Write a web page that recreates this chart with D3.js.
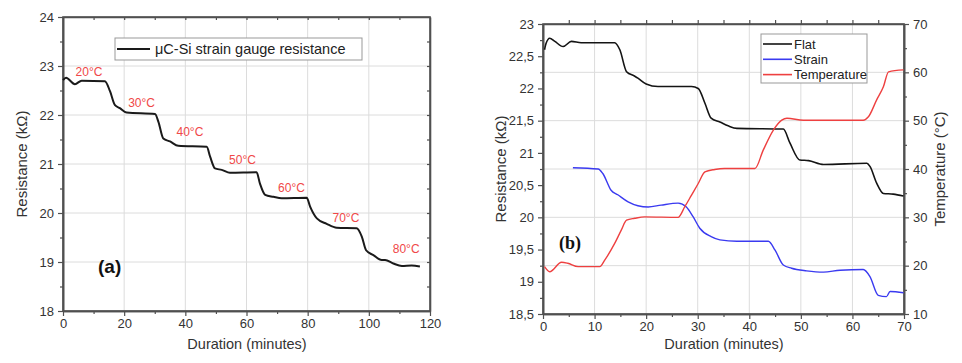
<!DOCTYPE html>
<html>
<head>
<meta charset="utf-8">
<script src="https://cdn.jsdelivr.net/npm/d3@7"></script>
<style>
  body { margin: 0; background: #fff; }
  svg { display: block; font-family: "Liberation Sans", Arial, sans-serif; }
</style>
</head>
<body>
<div class="container"></div>
<script>
// ---- data: chart (a) ----
const aTime = [0, 1, 3.9, 6.1, 13.7, 15.4, 17, 18.6, 20.8, 30.1, 31.2, 32.8, 35, 37.7, 47, 48.1, 49.7, 51.9, 54.6, 63.3, 64.4, 66.1, 68.8, 71.5, 79.7, 80.8, 83, 86.2, 89.5, 96, 97.7, 99.1, 101.5, 104.2, 105.3, 108, 110.8, 114, 116.7]
const aRes  = [22.71, 22.76, 22.63, 22.70, 22.69, 22.48, 22.2, 22.14, 22.05, 22.02, 21.86, 21.52, 21.46, 21.37, 21.35, 21.15, 20.91, 20.88, 20.82, 20.83, 20.6, 20.37, 20.33, 20.30, 20.31, 20.13, 19.89, 19.78, 19.70, 19.69, 19.52, 19.24, 19.14, 19.04, 19.04, 18.97, 18.92, 18.93, 18.91]
const aLabels = ['20°C', '30°C', '40°C', '50°C', '60°C', '70°C', '80°C']
const aLabelT = [8.5, 25.7, 41.5, 58.7, 74.7, 92.5, 112.2]
const aLabelR = [22.8, 22.16, 21.57, 21.0, 20.43, 19.82, 19.18]
const aXTicks = [0, 20, 40, 60, 80, 100, 120]
const aYTicks = [18, 19, 20, 21, 22, 23, 24]

// ---- data: chart (b) ----
const flatT = [0.3, 0.6, 1.3, 2.3, 3.9, 5.5, 7.4, 13.9, 14.9, 16.2, 17.8, 18.4, 20, 22.3, 28.8, 30.1, 31.4, 32.6, 34.3, 35.9, 37.6, 46.6, 47.9, 49.8, 51.5, 54.4, 62.8, 63.4, 64.7, 66, 67.9, 69.9]
const flatR = [22.60, 22.70, 22.78, 22.73, 22.65, 22.73, 22.71, 22.71, 22.60, 22.26, 22.19, 22.16, 22.07, 22.03, 22.03, 22.0, 21.77, 21.54, 21.48, 21.42, 21.38, 21.37, 21.15, 20.89, 20.88, 20.82, 20.84, 20.79, 20.53, 20.37, 20.36, 20.33]
const strainT = [5.8, 10.7, 11.6, 13.2, 14.5, 16.5, 18.4, 20.4, 22.9, 26.2, 27.8, 29.1, 30.4, 32.6, 34.3, 37.6, 43.7, 45, 46.6, 48.2, 51.1, 54.4, 57.6, 62.1, 63.4, 65, 66.6, 67.3, 69.9]
const strainR = [20.77, 20.75, 20.68, 20.42, 20.35, 20.24, 20.18, 20.16, 20.19, 20.22, 20.16, 20.01, 19.83, 19.70, 19.65, 19.63, 19.63, 19.49, 19.26, 19.21, 19.17, 19.15, 19.18, 19.19, 19.08, 18.79, 18.77, 18.85, 18.83]
const tempT = [0.3, 1.3, 3.6, 4.8, 6.8, 11, 12, 13.9, 15.2, 16.2, 17.8, 19.7, 26.2, 27.5, 28.8, 30.1, 31.4, 33.3, 35.2, 41.1, 42.7, 44.7, 46.3, 47.3, 50.5, 62.1, 63.1, 64.7, 66, 67, 69.9]
const tempC = [19.8, 18.75, 20.7, 20.5, 19.8, 19.8, 21.2, 24.6, 27.4, 29.4, 29.8, 30.1, 30.0, 32.2, 34.6, 37.0, 39.4, 39.9, 40.1, 40.1, 43.9, 48.1, 50.1, 50.5, 50.1, 50.1, 50.8, 54.3, 57.0, 60.1, 60.5]
const bXTicks = [0, 10, 20, 30, 40, 50, 60, 70]
const bYTicks = [18.5, 19, 19.5, 20, 20.5, 21, 21.5, 22, 22.5, 23]
const bTTicks = [10, 20, 30, 40, 50, 60, 70]
const bSeries = ['Flat', 'Strain', 'Temperature']

const svg = d3.select('.container').append('svg')
    .attr('width', 962)
    .attr('height', 363)

const axisCol = '#505050'
const gridCol = '#dcdcdc'
const fmtComma = d => String(d).replace('.', ',')

function styleAxis(g) {
    g.selectAll('path').attr('stroke', axisCol).attr('stroke-width', 1.6)
    g.selectAll('line').attr('stroke', axisCol).attr('stroke-width', 1.2)
    g.selectAll('text').attr('fill', '#333').style('font-size', '13px')
}

//==== chart (a) ====
const ax = d3.scaleLinear().domain([0, 120]).range([63, 430])
const ay = d3.scaleLinear().domain([18, 24]).range([311, 17])

const ga = svg.append('g')
// grid
ga.append('g').selectAll('line').data(aXTicks.slice(1, -1)).join('line')
    .attr('x1', d => ax(d)).attr('x2', d => ax(d))
    .attr('y1', ay(18)).attr('y2', ay(24))
    .attr('stroke', gridCol)
ga.append('g').selectAll('line').data(aYTicks.slice(1, -1)).join('line')
    .attr('y1', d => ay(d)).attr('y2', d => ay(d))
    .attr('x1', ax(0)).attr('x2', ax(120))
    .attr('stroke', gridCol)

// frame
ga.append('rect').attr('x', ax(0)).attr('y', ay(24))
    .attr('width', ax(120) - ax(0)).attr('height', ay(18) - ay(24))
    .attr('fill', 'none').attr('stroke', axisCol).attr('stroke-width', 1.6)

// minor + major axes
ga.append('g').attr('transform', `translate(0,${ay(18)})`)
    .call(d3.axisBottom(ax).tickValues(d3.range(10, 120, 20)).tickSize(3).tickSizeOuter(0).tickFormat(''))
    .call(styleAxis)
ga.append('g').attr('transform', `translate(0,${ay(18)})`)
    .call(d3.axisBottom(ax).tickValues(aXTicks).tickSize(5).tickSizeOuter(0).tickPadding(3))
    .call(styleAxis)
ga.append('g').attr('transform', `translate(${ax(0)},0)`)
    .call(d3.axisLeft(ay).tickValues(d3.range(18.5, 24, 1)).tickSize(3).tickSizeOuter(0).tickFormat(''))
    .call(styleAxis)
ga.append('g').attr('transform', `translate(${ax(0)},0)`)
    .call(d3.axisLeft(ay).tickValues(aYTicks).tickSize(5).tickSizeOuter(0).tickPadding(4).tickFormat(d3.format('d')))
    .call(styleAxis)
// mirror top/right
ga.append('g').attr('transform', `translate(0,${ay(24)})`)
    .call(d3.axisBottom(ax).tickValues(d3.range(10, 120, 10)).tickSize(3).tickSizeOuter(0).tickFormat(''))
    .call(styleAxis)
ga.append('g').attr('transform', `translate(${ax(120)},0)`)
    .call(d3.axisLeft(ay).tickValues(d3.range(18.5, 24, 0.5)).tickSize(3).tickSizeOuter(0).tickFormat(''))
    .call(styleAxis)

// line
const aData = aTime.map((t, i) => ({ t, r: aRes[i] }))
ga.append('path')
    .datum(aData)
    .attr('fill', 'none')
    .attr('stroke', '#1a1a1a')
    .attr('stroke-width', 2)
    .attr('d', d3.line().x(d => ax(d.t)).y(d => ay(d.r)).curve(d3.curveMonotoneX))

// temperature labels
ga.append('g').selectAll('text').data(aLabels).join('text')
    .attr('x', (d, i) => ax(aLabelT[i]))
    .attr('y', (d, i) => ay(aLabelR[i]))
    .attr('text-anchor', 'middle')
    .attr('fill', '#f04848')
    .style('font-size', '12px')
    .text(d => d)

// legend
ga.append('rect').attr('x', 115).attr('y', 38).attr('width', 247).attr('height', 22)
    .attr('fill', '#fff').attr('stroke', '#999').attr('stroke-width', 1)
ga.append('line').attr('x1', 117).attr('x2', 150).attr('y1', 49).attr('y2', 49)
    .attr('stroke', '#1a1a1a').attr('stroke-width', 2)
ga.append('text').attr('x', 155).attr('y', 54).style('font-size', '14.5px').attr('fill', '#222')
    .text('μC-Si strain gauge resistance')

ga.append('text').attr('x', 98).attr('y', 273).style('font-size', '19px')
    .style('font-weight', 'bold').attr('fill', '#111').text('(a)')

ga.append('text').attr('x', 247).attr('y', 349).attr('text-anchor', 'middle')
    .style('font-size', '14.5px').attr('fill', '#333').text('Duration (minutes)')
ga.append('text').attr('transform', 'translate(27,164) rotate(-90)').attr('text-anchor', 'middle')
    .style('font-size', '15px').attr('fill', '#333').text('Resistance (kΩ)')

//==== chart (b) ====
const bx = d3.scaleLinear().domain([0, 70]).range([543, 904])
const by = d3.scaleLinear().domain([18.5, 23]).range([314, 24])
const bt = d3.scaleLinear().domain([10, 70]).range([314, 24])

const gb = svg.append('g')
gb.append('g').selectAll('line').data(bXTicks.slice(1, -1)).join('line')
    .attr('x1', d => bx(d)).attr('x2', d => bx(d))
    .attr('y1', by(18.5)).attr('y2', by(23))
    .attr('stroke', gridCol)
gb.append('g').selectAll('line').data(bTTicks.slice(1, -1)).join('line')
    .attr('y1', d => bt(d)).attr('y2', d => bt(d))
    .attr('x1', bx(0)).attr('x2', bx(70))
    .attr('stroke', gridCol)

gb.append('rect').attr('x', bx(0)).attr('y', by(23))
    .attr('width', bx(70) - bx(0)).attr('height', by(18.5) - by(23))
    .attr('fill', 'none').attr('stroke', axisCol).attr('stroke-width', 1.6)

gb.append('g').attr('transform', `translate(0,${by(18.5)})`)
    .call(d3.axisBottom(bx).tickValues(d3.range(5, 70, 10)).tickSize(3).tickSizeOuter(0).tickFormat(''))
    .call(styleAxis)
gb.append('g').attr('transform', `translate(0,${by(18.5)})`)
    .call(d3.axisBottom(bx).tickValues(bXTicks).tickSize(5).tickSizeOuter(0).tickPadding(3))
    .call(styleAxis)
gb.append('g').attr('transform', `translate(0,${by(23)})`)
    .call(d3.axisTop(bx).tickValues(d3.range(5, 70, 5)).tickSize(4).tickSizeOuter(0).tickFormat(''))
    .call(styleAxis)
gb.append('g').attr('transform', `translate(${bx(0)},0)`)
    .call(d3.axisLeft(by).tickValues(d3.range(18.75, 23, 0.5)).tickSize(3).tickSizeOuter(0).tickFormat(''))
    .call(styleAxis)
gb.append('g').attr('transform', `translate(${bx(0)},0)`)
    .call(d3.axisLeft(by).tickValues(bYTicks).tickSize(5).tickSizeOuter(0).tickPadding(4).tickFormat(fmtComma))
    .call(styleAxis)
gb.append('g').attr('transform', `translate(${bx(70)},0)`)
    .call(d3.axisRight(bt).tickValues(d3.range(15, 70, 10)).tickSize(3).tickSizeOuter(0).tickFormat(''))
    .call(styleAxis)
gb.append('g').attr('transform', `translate(${bx(70)},0)`)
    .call(d3.axisRight(bt).tickValues(bTTicks).tickSize(5).tickSizeOuter(0).tickPadding(4))
    .call(styleAxis)

const lineR = d3.line().x(d => bx(d.t)).y(d => by(d.v)).curve(d3.curveMonotoneX)
const lineT = d3.line().x(d => bx(d.t)).y(d => bt(d.v)).curve(d3.curveMonotoneX)
const colors = ['#141414', '#3a3af0', '#ee4040']

gb.append('path').datum(flatT.map((t, i) => ({ t, v: flatR[i] })))
    .attr('fill', 'none').attr('stroke', colors[0]).attr('stroke-width', 1.6).attr('d', lineR)
gb.append('path').datum(strainT.map((t, i) => ({ t, v: strainR[i] })))
    .attr('fill', 'none').attr('stroke', colors[1]).attr('stroke-width', 1.4).attr('d', lineR)
gb.append('path').datum(tempT.map((t, i) => ({ t, v: tempC[i] })))
    .attr('fill', 'none').attr('stroke', colors[2]).attr('stroke-width', 1.4).attr('d', lineT)

// legend
gb.append('rect').attr('x', 761).attr('y', 34).attr('width', 106).attr('height', 49)
    .attr('fill', '#fff').attr('stroke', '#999')
const leg = gb.append('g').selectAll('g').data(bSeries).join('g')
    .attr('transform', (d, i) => `translate(763,${44 + i * 15.3})`)
leg.append('line').attr('x1', 0).attr('x2', 29)
    .attr('stroke', (d, i) => colors[i]).attr('stroke-width', 1.6)
leg.append('text').attr('x', 31).attr('y', 4.5).style('font-size', '13px').attr('fill', '#222')
    .text(d => d)

gb.append('text').attr('x', 559).attr('y', 249)
    .style('font-family', '"Liberation Serif", "Times New Roman", serif')
    .style('font-size', '18px').style('font-weight', 'bold').attr('fill', '#111').text('(b)')

gb.append('text').attr('x', 724).attr('y', 349).attr('text-anchor', 'middle')
    .style('font-size', '14.5px').attr('fill', '#333').text('Duration (minutes)')
gb.append('text').attr('transform', 'translate(506,169) rotate(-90)').attr('text-anchor', 'middle')
    .style('font-size', '15px').attr('fill', '#333').text('Resistance (kΩ)')
gb.append('text').attr('transform', 'translate(945,169) rotate(-90)').attr('text-anchor', 'middle')
    .style('font-size', '15px').attr('fill', '#333').text('Temperature (°C)')
</script>
</body>
</html>
